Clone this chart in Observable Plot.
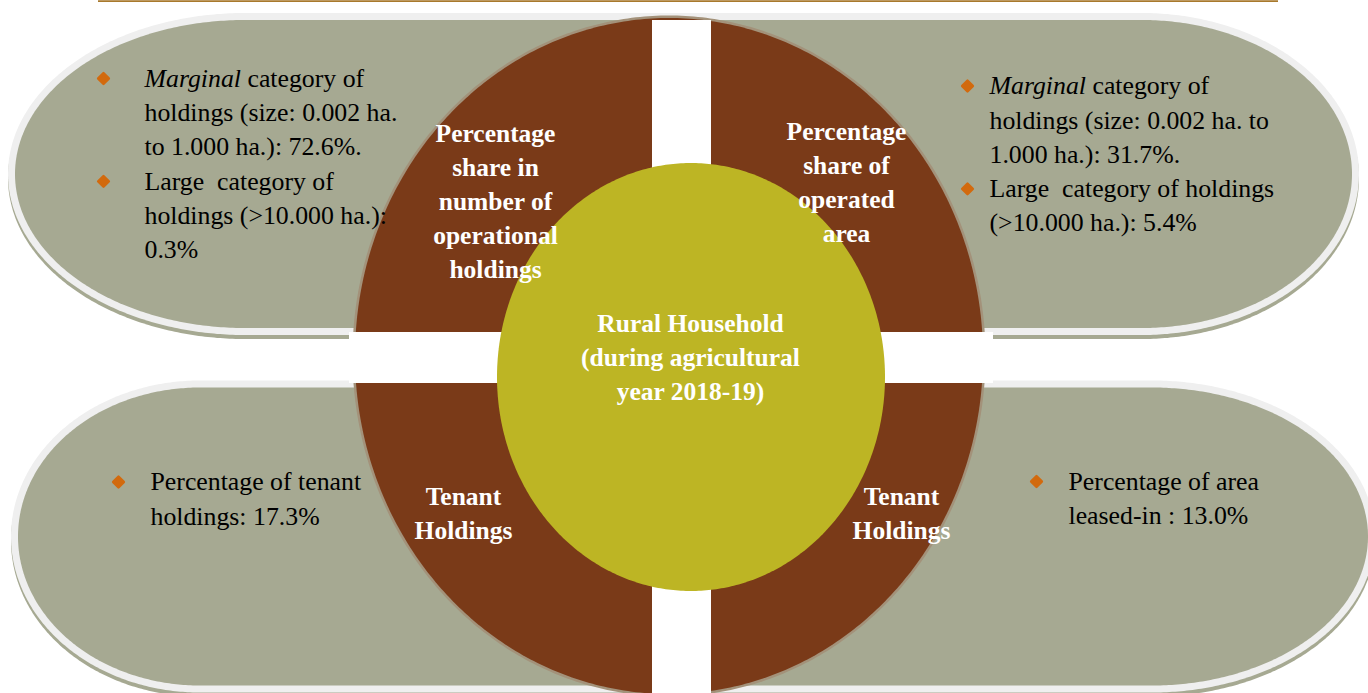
<!DOCTYPE html>
<html><head><meta charset="utf-8">
<script src="https://cdn.jsdelivr.net/npm/d3@7"></script>
<script src="https://cdn.jsdelivr.net/npm/@observablehq/plot@0.6"></script>
<style>body{margin:0;background:#fff;overflow:hidden} svg text{white-space:pre}</style>
</head><body><div id="chart"></div>
<script>
// ---------- data ----------
const sizeCategories = ["Marginal", "Large"];
const shareInNumber = [72.6, 0.3];   // % share in number of operational holdings
const shareOfArea   = [31.7, 5.4];   // % share of operated area
const tenantValues  = [17.3, 13.0];  // % tenant holdings, % area leased-in
const quadrantTitles = [
  "Percentage\nshare in\nnumber of\noperational\nholdings",
  "Percentage\nshare of\noperated\narea",
  "Tenant\nHoldings",
  "Tenant\nHoldings"
];
const centreTitle = "Rural Household\n(during agricultural\nyear 2018-19)";

// ---------- layout ----------
const W = 1368, H = 693;
const FONT = '"Liberation Serif","Times New Roman",serif';
const REG = 25.8, BOLD = 25.5, LH = 34.3, BLH = 34.1;
const C = {gray: "#a6a992", light: "#efefef", brown: "#7a3a18", ring: "#a3927a", yellow: "#bdb524", bullet: "#d26a0e", rule: "#a8792c"};
const pills = [
  {side: "left",  capX: 245,  rx: 230, cy: 174,   ry: 154, end: 669},
  {side: "right", capX: 1142, rx: 210, cy: 174,   ry: 154, end: 669},
  {side: "left",  capX: 200,  rx: 182, cy: 536.5, ry: 149, end: 669},
  {side: "right", capX: 1152, rx: 216, cy: 536.5, ry: 149, end: 669}
];
const outer = {cx: 669, cy: 356, rx: 314, ry: 338};
const inner = {cx: 691, cy: 377, rx: 194, ry: 214};
const gaps = [{x1: 652, x2: 711, y1: 20, y2: H}, {x1: 349, x2: 993, y1: 332, y2: 383}];
const titlePos = [{x: 495, y: 198.5}, {x: 846, y: 179.5}, {x: 463, y: 511}, {x: 901, y: 511}];
const centrePos = {x: 690, y: 354.5};

const fmt = v => v.toFixed(1) + "%";
const blocks = [
  {x: 144, y0: 78, bx: 103, lines: [
    {bullet: true, italic: sizeCategories[0], text: "category of"},
    {text: "holdings (size: 0.002 ha."},
    {text: `to 1.000 ha.): ${fmt(shareInNumber[0])}.`},
    {bullet: true, text: `${sizeCategories[1]}\u00a0 category of`},
    {text: "holdings (>10.000 ha.):"},
    {text: fmt(shareInNumber[1])}
  ]},
  {x: 989, y0: 85.5, bx: 967, lines: [
    {bullet: true, italic: sizeCategories[0], text: "category of"},
    {text: "holdings (size: 0.002 ha. to"},
    {text: `1.000 ha.): ${fmt(shareOfArea[0])}.`},
    {bullet: true, text: `${sizeCategories[1]}\u00a0 category of holdings`},
    {text: `(>10.000 ha.): ${fmt(shareOfArea[1])}`}
  ]},
  {x: 150, y0: 481.5, bx: 118, lines: [
    {bullet: true, text: "Percentage of tenant"},
    {text: `holdings: ${fmt(tenantValues[0])}`}
  ]},
  {x: 1068, y0: 481, bx: 1036, lines: [
    {bullet: true, text: "Percentage of area"},
    {text: `leased-in : ${fmt(tenantValues[1])}`}
  ]}
];

// measure italic prefix
const ctx = document.createElement("canvas").getContext("2d");
ctx.font = `italic ${REG}px "Liberation Serif"`;
const italicW = ctx.measureText(sizeCategories[0] + " ").width;

const rows = [], italics = [], bullets = [];
blocks.forEach(b => b.lines.forEach((l, i) => {
  const y = b.y0 + i * LH;
  if (l.italic) italics.push({x: b.x, y, text: l.italic});
  rows.push({x: b.x + (l.italic ? italicW : 0), y, text: l.text});
  if (l.bullet) bullets.push({x: b.bx, y});
}));

// ---------- shapes ----------
function pillPoints(p, g = 0, dy = 0) {
  const N = 120, pts = [], rx = p.rx + g, ry = p.ry + g;
  for (let k = 0; k <= N; k++) {
    const t = k / N * Math.PI / 2, h = ry * Math.sin(t);
    const x = p.side === "left" ? p.capX - rx * Math.cos(t) : p.capX + rx * Math.cos(t);
    pts.push({x, y1: p.cy + dy - h, y2: p.cy + dy + h});
  }
  pts.push({x: p.end, y1: p.cy + dy - ry, y2: p.cy + dy + ry});
  return pts.sort((a, b) => a.x - b.x);
}
function ellipsePoints(e, g = 0) {
  const N = 240, pts = [];
  for (let k = 0; k <= N; k++) {
    const t = Math.PI - k / N * Math.PI, h = (e.ry + g) * Math.sin(t);
    pts.push({x: e.cx + (e.rx + g) * Math.cos(t), y1: e.cy - h, y2: e.cy + h});
  }
  return pts;
}
const area = (pts, fill) => Plot.areaY(pts, {x: "x", y1: "y1", y2: "y2", fill, curve: "linear"});

const chart = Plot.plot({
  width: W, height: H, margin: 0,
  x: {domain: [0, W], range: [0, W], axis: null},
  y: {domain: [0, H], range: [0, H], axis: null},
  style: {background: "transparent", overflow: "hidden"},
  marks: [
    Plot.ruleY([0.6], {x1: 98, x2: 1278, stroke: C.rule, strokeWidth: 1.6}),
    ...pills.map(p => area(pillPoints(p, 7, 4), C.gray)),
    ...pills.map(p => area(pillPoints(p, 7, 0), C.light)),
    ...pills.map(p => area(pillPoints(p, 0, 0), C.gray)),
    area(ellipsePoints(outer, 2.5), C.ring),
    area(ellipsePoints(outer, 0), C.brown),
    Plot.rect(gaps, {x1: "x1", x2: "x2", y1: "y1", y2: "y2", fill: "#fff"}),
    area(ellipsePoints(inner, 0), C.yellow),
    Plot.dot(bullets, {x: "x", y: "y", symbol: "diamond2", r: 4.8, fill: C.bullet, stroke: C.bullet, strokeWidth: 2.5, strokeLinejoin: "round"}),
    Plot.text(italics, {x: "x", y: "y", text: "text", textAnchor: "start", lineAnchor: "middle", fontSize: REG, fontFamily: FONT, fontStyle: "italic", fill: "#000"}),
    Plot.text(rows, {x: "x", y: "y", text: "text", textAnchor: "start", lineAnchor: "middle", fontSize: REG, fontFamily: FONT, fill: "#000"}),
    Plot.text(quadrantTitles.map((t, i) => ({...titlePos[i], text: t})), {x: "x", y: "y", text: "text", textAnchor: "middle", lineAnchor: "middle", lineHeight: BLH / BOLD, fontSize: BOLD, fontWeight: "bold", fontFamily: FONT, fill: "#fff"}),
    Plot.text([{...centrePos, text: centreTitle}], {x: "x", y: "y", text: "text", textAnchor: "middle", lineAnchor: "middle", lineHeight: BLH / BOLD, fontSize: BOLD, fontWeight: "bold", fontFamily: FONT, fill: "#fff"})
  ]
});
document.getElementById("chart").appendChild(chart);
</script>
</body></html>
